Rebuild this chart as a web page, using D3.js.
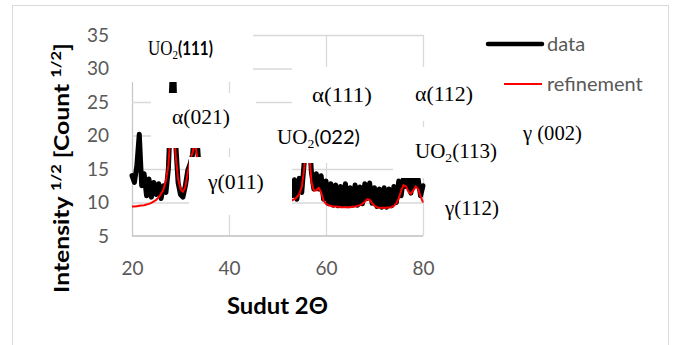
<!DOCTYPE html>
<html>
<head>
<meta charset="utf-8">
<script src="https://cdn.jsdelivr.net/npm/d3@7"></script>
<style>
  html, body { margin: 0; padding: 0; background: #fff; }
  svg { display: block; }
</style>
</head>
<body>
<div id="view"></div>
<script>
// scan angles (2 theta), the part 34..53 sits under the gamma(011) text box
const twoTheta = [
  20, 20.5, 21, 21.5, 22, 22.5, 23, 23.5, 24, 24.5, 25, 25.5, 26, 26.5, 27, 27.5,
  28, 28.5, 29, 29.5, 30, 30.5, 31, 31.5, 32, 32.5, 33, 33.5, 34,
  53, 53.5, 54, 54.5, 55, 55.5, 56, 56.5, 57, 57.5, 58, 58.5, 59, 59.5, 60, 60.5,
  61, 61.5, 62, 62.5, 63, 63.5, 64, 64.5, 65, 65.5, 66, 66.5, 67, 67.5, 68, 68.5,
  69, 69.5, 70, 70.5, 71, 71.5, 72, 72.5, 73, 73.5, 74, 74.5, 75, 75.5, 76, 76.5,
  77, 77.5, 78, 78.5, 79, 79.5, 80
];
const dataSqrt = [
  14.0, 13.0, 15.5, 20.2, 12.5, 14.3, 11.0, 13.5, 10.8, 13.0, 11.2, 12.8, 10.6, 12.5, 11.5, 15.0,
  24.0, 33.0, 19.0, 13.0, 11.2, 10.8, 12.5, 14.8, 15.8, 17.2, 22.0, 18.5, 13.5,
  11.0, 13.4, 10.5, 13.6, 11.5, 16.0, 22.0, 20.0, 14.5, 12.0, 14.3, 12.0, 14.0, 10.5, 13.2, 9.8,
  12.8, 9.6, 12.6, 9.5, 12.4, 9.6, 12.8, 9.5, 12.2, 9.6, 12.6, 9.6, 12.3, 9.8, 12.8, 10.6,
  12.9, 9.9, 12.2, 9.4, 12.0, 9.3, 12.2, 9.3, 12.0, 9.5, 12.4, 10.0, 13.2, 11.0, 13.8, 12.4,
  13.6, 11.4, 13.9, 12.5, 13.5, 11.0, 12.5
];
const refineSqrt = [
  9.4, 9.4, 9.45, 9.5, 9.55, 9.6, 9.7, 9.8, 9.95, 10.15, 10.4, 10.8, 11.3, 12.0, 13.3, 15.5,
  21.0, 25.0, 17.0, 13.5, 12.0, 11.6, 12.3, 14.5, 16.3, 17.5, 19.0, 16.5, 12.5,
  10.3, 10.5, 10.8, 11.3, 12.3, 15.0, 20.0, 18.0, 13.0, 11.8, 11.8, 12.2, 11.5, 10.3, 9.8, 9.6,
  9.5, 9.4, 9.4, 9.35, 9.3, 9.3, 9.3, 9.3, 9.3, 9.35, 9.4, 9.5, 9.6, 9.8, 10.1, 10.5,
  10.4, 9.9, 9.5, 9.3, 9.2, 9.2, 9.2, 9.2, 9.25, 9.3, 9.5, 9.9, 10.6, 11.8, 12.6, 12.4,
  11.6, 11.3, 11.8, 12.4, 12.0, 10.9, 10.0
];
const xTicks = [20, 40, 60, 80];
const yTicks = [5, 10, 15, 20, 25, 30, 35];
const seriesNames = ['data', 'refinement'];
const peakLabels = ['UO2(111)', 'α(021)', 'γ(011)', 'UO2(022)', 'α(111)', 'α(112)', 'UO2(113)', 'γ (002)', 'γ(112)'];

const width = 675, height = 345;
const svg = d3.select('#view').append('svg')
  .attr('width', width)
  .attr('height', height);

const x = d3.scaleLinear().domain([20, 80]).range([132, 423]);
const y = d3.scaleLinear().domain([5, 35]).range([236, 35]);

const sans = 'Lato, "Open Sans", sans-serif';
const serif = '"Liberation Serif", "DejaVu Serif", serif';

// chart border
svg.append('rect')
  .attr('x', 12.5).attr('y', 5.5)
  .attr('width', 656).attr('height', 350)
  .attr('fill', '#fff').attr('stroke', '#d9d9d9');

// gridlines
const gx = svg.append('g')
  .attr('transform', `translate(0,${y(5)})`)
  .call(d3.axisBottom(x).tickValues(xTicks).tickSize(-(y(5) - y(35))).tickFormat(''));
gx.select('.domain').remove();
gx.selectAll('line').attr('stroke', '#d9d9d9').attr('stroke-width', 1.3);
gx.selectAll('.tick').filter(d => d === 20).select('line').attr('stroke', '#c8c8c8');

const gy = svg.append('g')
  .attr('transform', `translate(${x(20)},0)`)
  .call(d3.axisLeft(y).tickValues(yTicks.slice(1)).tickSize(-(x(80) - x(20))).tickFormat(''));
gy.select('.domain').remove();
gy.selectAll('line').attr('stroke', '#d9d9d9').attr('stroke-width', 1.3);

// x axis line
svg.append('line')
  .attr('x1', x(20)).attr('x2', x(80))
  .attr('y1', y(5)).attr('y2', y(5))
  .attr('stroke', '#bfbfbf').attr('stroke-width', 1.6);

// series
const rows = twoTheta.map((t, i) => ({ t: t, d: dataSqrt[i], r: refineSqrt[i] }));

svg.append('path')
  .datum(rows)
  .attr('fill', 'none')
  .attr('stroke', '#000')
  .attr('stroke-width', 5)
  .attr('stroke-linejoin', 'round')
  .attr('stroke-linecap', 'round')
  .attr('d', d3.line().x(d => x(d.t)).y(d => y(d.d)));

svg.append('path')
  .datum(rows)
  .attr('fill', 'none')
  .attr('stroke', '#ff0000')
  .attr('stroke-width', 2)
  .attr('stroke-linejoin', 'round')
  .attr('d', d3.line().x(d => x(d.t)).y(d => y(d.r)));

// legend
const legend = svg.append('g');
legend.append('line')
  .attr('x1', 488).attr('x2', 542).attr('y1', 44).attr('y2', 44)
  .attr('stroke', '#000').attr('stroke-width', 4.5).attr('stroke-linecap', 'round');
legend.append('line')
  .attr('x1', 488).attr('x2', 542).attr('y1', 84).attr('y2', 84)
  .attr('stroke', '#ff0000').attr('stroke-width', 2);
legend.selectAll('text.leg')
  .data(seriesNames)
  .enter().append('text')
  .attr('class', 'leg')
  .attr('x', 547)
  .attr('y', (d, i) => 51 + i * 40)
  .attr('font-family', sans)
  .attr('font-size', 20)
  .attr('fill', '#595959')
  .text(d => d);

// white text boxes of the peak labels (they cover grid and data)
const boxes = [
  [122, 22, 131, 60],
  [151, 93, 105, 55],
  [189, 157, 103, 58],
  [292, 67, 100, 55],
  [256, 120, 139, 43],
  [392, 67, 112, 54],
  [393, 127, 112, 51],
  [510, 120, 85, 30],
  [435, 195, 75, 30]
];
svg.selectAll('rect.box')
  .data(boxes)
  .enter().append('rect')
  .attr('class', 'box')
  .attr('x', d => d[0]).attr('y', d => d[1])
  .attr('width', d => d[2]).attr('height', d => d[3])
  .attr('fill', '#fff');

function fitWidth(sel, x0, w) {
  const bw = sel.node().getBBox().width;
  const s = w / bw;
  sel.attr('transform', `translate(${x0},0) scale(${s},1) translate(${-x0},0)`);
}

// label: [text index, x, baseline, width, suffix font]
const labelPos = [
  [0, 148, 55, 65, 'sansbold'],
  [1, 172, 124, 58, null],
  [2, 208, 189, 57, null],
  [3, 277, 144, 83, 'sans'],
  [4, 312, 102, 60, null],
  [5, 415, 101, 58, null],
  [6, 415, 158, 82, null],
  [7, 523, 140, 60, null],
  [8, 445, 215, 55, null]
];
labelPos.forEach(p => {
  const label = peakLabels[p[0]];
  const t = svg.append('text')
    .attr('x', p[1]).attr('y', p[2])
    .attr('font-family', serif)
    .attr('font-size', 20)
    .attr('fill', '#000');
  if (label.startsWith('UO2')) {
    t.append('tspan').text('UO');
    t.append('tspan').attr('font-size', 13).attr('dy', 4).text('2');
    const rest = t.append('tspan').attr('dy', -4).text(label.slice(3));
    if (p[4] === 'sansbold') rest.attr('font-family', sans).attr('font-weight', 'bold').attr('font-size', 18);
    if (p[4] === 'sans') rest.attr('font-family', sans).attr('font-size', 19);
  } else {
    t.text(label);
  }
  fitWidth(t, p[1], p[3]);
});

// tick labels
const ax = svg.append('g')
  .attr('transform', `translate(0,${y(5)})`)
  .call(d3.axisBottom(x).tickValues(xTicks).tickSize(0).tickPadding(26));
ax.select('.domain').remove();
ax.selectAll('text').attr('font-family', sans).attr('font-size', 19).attr('fill', '#595959');

const ay = svg.append('g')
  .attr('transform', `translate(${x(20)},0)`)
  .call(d3.axisLeft(y).tickValues(yTicks).tickSize(0).tickPadding(23));
ay.select('.domain').remove();
ay.selectAll('text').attr('font-family', sans).attr('font-size', 19).attr('fill', '#595959');

// axis titles
const xt = svg.append('text')
  .attr('x', 227).attr('y', 314)
  .attr('font-family', sans).attr('font-weight', 'bold').attr('font-size', 22)
  .attr('fill', '#000')
  .text('Sudut 2Θ');
fitWidth(xt, 227, 101);

const ytG = svg.append('g');
const yt = ytG.append('text')
  .attr('x', 0).attr('y', 0)
  .attr('font-family', sans).attr('font-weight', 'bold').attr('font-size', 21)
  .attr('fill', '#000');
yt.append('tspan').text('Intensity ');
yt.append('tspan').attr('font-size', 14).attr('dy', -8).text('1/2');
yt.append('tspan').attr('dy', 8).text(' [Count ');
yt.append('tspan').attr('font-size', 14).attr('dy', -8).text('1/2');
yt.append('tspan').attr('dy', 8).text(']');
const yw = yt.node().getBBox().width;
ytG.attr('transform', `translate(69,293) rotate(-90) scale(${250 / yw},1)`);
</script>
</body>
</html>
